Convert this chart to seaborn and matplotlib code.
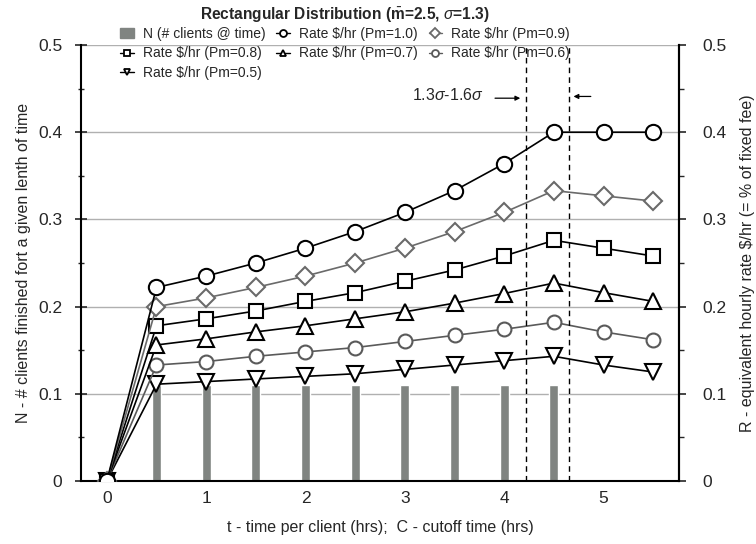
import numpy as np
import pandas as pd
import matplotlib
matplotlib.use("Agg")
import matplotlib.pyplot as plt
import seaborn as sns

# ---- data ----
t = [0, 0.5, 1, 1.5, 2, 2.5, 3, 3.5, 4, 4.5, 5, 5.5]
n_x = [0.5, 1, 1.5, 2, 2.5, 3, 3.5, 4, 4.5]
n_clients = [0.11, 0.11, 0.11, 0.11, 0.11, 0.11, 0.11, 0.11, 0.11]
rate_10 = [0, 0.222, 0.235, 0.250, 0.267, 0.286, 0.308, 0.333, 0.364, 0.400, 0.400, 0.400]
rate_09 = [0, 0.200, 0.210, 0.222, 0.235, 0.250, 0.267, 0.286, 0.308, 0.333, 0.327, 0.321]
rate_08 = [0, 0.178, 0.186, 0.195, 0.206, 0.216, 0.229, 0.242, 0.258, 0.276, 0.267, 0.258]
rate_07 = [0, 0.156, 0.163, 0.171, 0.178, 0.186, 0.194, 0.204, 0.215, 0.227, 0.216, 0.206]
rate_06 = [0, 0.133, 0.137, 0.143, 0.148, 0.153, 0.160, 0.167, 0.174, 0.182, 0.171, 0.162]
rate_05 = [0, 0.111, 0.114, 0.117, 0.120, 0.123, 0.128, 0.133, 0.138, 0.143, 0.133, 0.125]
cutoff_lines = [4.22, 4.65]
x_ticks = [0, 1, 2, 3, 4, 5]
y_ticks = [0, 0.1, 0.2, 0.3, 0.4, 0.5]
y_tick_labels = ["0", "0.1", "0.2", "0.3", "0.4", "0.5"]

sns.set_theme(style="white")
plt.rcParams['font.family'] = ['Liberation Sans', 'DejaVu Sans']
plt.rcParams['mathtext.fontset'] = 'custom'
plt.rcParams['mathtext.rm'] = 'Liberation Sans'
plt.rcParams['mathtext.it'] = 'Liberation Sans:italic'
plt.rcParams['mathtext.bf'] = 'Liberation Sans:bold'

fig = plt.figure(figsize=(7.56, 5.44), dpi=100)
ax = fig.add_axes([81/756, 1-481/544, (679-81)/756, (481-45)/544])

bar_color = "#808481"
sns.barplot(x=n_x, y=n_clients, native_scale=True, width=0.18, color=bar_color,
            ax=ax, zorder=2, saturation=1)
if ax.get_legend() is not None:
    ax.get_legend().remove()

series = [
    ("Rate $/hr (Pm=0.5)", rate_05, "v", "black", 11),
    ("Rate $/hr (Pm=0.6)", rate_06, "o", "#5a5a5a", 10),
    ("Rate $/hr (Pm=0.7)", rate_07, "^", "black", 11),
    ("Rate $/hr (Pm=0.8)", rate_08, "s", "black", 10),
    ("Rate $/hr (Pm=0.9)", rate_09, "D", "#6a6a6a", 9.5),
    ("Rate $/hr (Pm=1.0)", rate_10, "o", "black", 11),
]
handles = {}
for name, vals, mk, col, ms in series:
    sns.lineplot(x=t, y=vals, ax=ax, color=col, lw=1.2, marker=mk, markersize=ms,
                 markerfacecolor="white", markeredgecolor=col, markeredgewidth=1.5,
                 zorder=3, legend=False)
    handles[name] = plt.Line2D([], [], color=col, lw=1.0, marker=mk, markersize=5,
                               markerfacecolor="white", markeredgecolor=col,
                               markeredgewidth=1.3)

for xc in cutoff_lines:
    ax.axvline(xc, color="black", lw=1.0, ls=(0, (4, 3)), zorder=4)

ax.set_xlim(-0.26, 5.76)
ax.set_ylim(0, 0.5)
ax.set_xticks(x_ticks)
ax.set_xticklabels([str(v) for v in x_ticks])
ax.set_yticks(y_ticks)
ax.set_yticklabels(y_tick_labels)
ax.set_yticks([0.05, 0.15, 0.25, 0.35, 0.45], minor=True)
ax.tick_params(axis="x", length=0, pad=7, labelsize=12.5)
ax.tick_params(axis="y", which="major", direction="inout", length=8, width=1.2,
               pad=9.5, labelsize=12.5, left=True)
ax.tick_params(axis="y", which="minor", direction="inout", length=5, width=1.0, left=True)
ax.yaxis.grid(True, color="#b0b0b0", lw=1.0, zorder=0)
ax.set_axisbelow(True)
for s in ["left", "bottom", "right"]:
    ax.spines[s].set_visible(True)
    ax.spines[s].set_color("black")
    ax.spines[s].set_linewidth(1.5)
ax.spines["top"].set_visible(False)

ax.set_xlabel("t - time per client (hrs);  C - cutoff time (hrs)", fontsize=11.5, labelpad=10)
ax.set_ylabel("N - # clients finished fort a given lenth of time", fontsize=11.5, labelpad=5)

ax2 = ax.twinx()
ax2.set_ylim(0, 0.5)
ax2.set_yticks(y_ticks)
ax2.set_yticklabels(y_tick_labels)
ax2.set_yticks([0.05, 0.15, 0.25, 0.35, 0.45], minor=True)
ax2.tick_params(axis="y", which="major", direction="out", length=5, width=1.2,
                pad=11.5, labelsize=12.5, right=True)
ax2.tick_params(axis="y", which="minor", direction="out", length=3.5, width=1.0, right=True)
for s in ["left", "top", "bottom"]:
    ax2.spines[s].set_visible(False)
ax2.spines["right"].set_color("black")
ax2.spines["right"].set_linewidth(1.5)
ax2.set_ylabel("R - equivalent hourly rate \\$/hr (= % of fixed fee)", fontsize=11.5,
               rotation=90, labelpad=10)

# annotation
ax.text(3.79, 0.443, r"1.3$\it{\sigma}$-1.6$\it{\sigma}$", ha="right", va="center", fontsize=11.5)
ax.annotate("", xy=(4.19, 0.439), xytext=(3.88, 0.439),
            arrowprops=dict(arrowstyle="-|>", color="black", lw=0.9, mutation_scale=7))
ax.annotate("", xy=(4.67, 0.441), xytext=(4.9, 0.441),
            arrowprops=dict(arrowstyle="-|>", color="black", lw=0.9, mutation_scale=7))

# legend
bar_handle = plt.Rectangle((0, 0), 1, 1, color=bar_color)
order = ["N", "Rate $/hr (Pm=0.8)", "Rate $/hr (Pm=0.5)", "Rate $/hr (Pm=1.0)",
         "Rate $/hr (Pm=0.7)", "Rate $/hr (Pm=0.9)", "Rate $/hr (Pm=0.6)"]
hs, ls = [], []
for k in order:
    if k == "N":
        hs.append(bar_handle); ls.append("N (# clients @ time)")
    else:
        hs.append(handles[k]); ls.append(k.replace("$", "\\$"))
leg = fig.legend(hs, ls, ncol=3, loc="upper center", bbox_to_anchor=(345/756, 1.006),
                 frameon=False, fontsize=10, handlelength=1.0, handletextpad=0.6,
                 columnspacing=0.8, labelspacing=0.4, borderpad=0.2,
                 title=r"Rectangular Distribution ($\bar{\mathbf{m}}$=2.5, $\it{\sigma}$=1.3)",
                 title_fontproperties={"weight": "bold", "size": 11.2})
leg._legend_box.sep = 1

fig.savefig("out.png", dpi=100)
